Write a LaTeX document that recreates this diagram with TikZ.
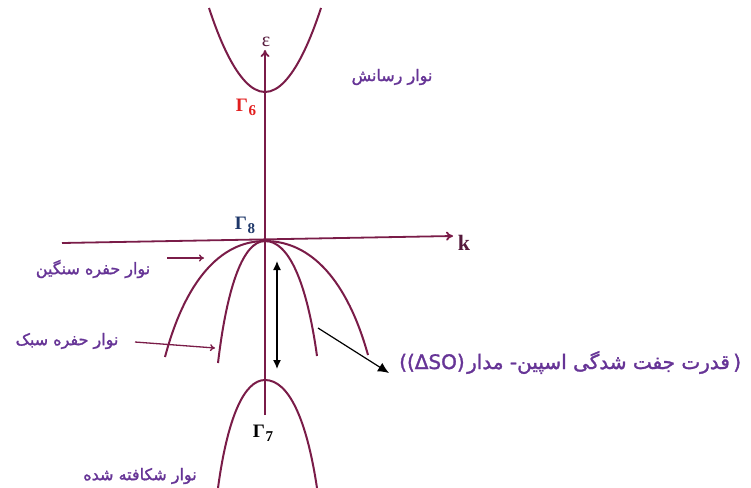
\documentclass[tikz,border=0pt]{standalone}
\usepackage{fontspec}
\usetikzlibrary{arrows.meta,positioning}
\TeXXeTstate=1
\newfontfamily\arabicfont[Script=Arabic,FakeBold=1.5]{DejaVu Sans}
\newfontfamily\latinsans[FakeBold=1.5]{DejaVu Sans}
\newfontfamily\serifb{Liberation Serif}
\definecolor{bandcol}{RGB}{122,28,72}
\definecolor{axlab}{RGB}{85,25,60}
\definecolor{txtcol}{RGB}{102,52,150}
\definecolor{gred}{RGB}{225,30,30}
\definecolor{gnavy}{RGB}{30,55,105}
\newcommand{\gsym}[1]{\serifb\bfseries\fontsize{19}{21}\selectfont Γ\kern0.5pt\raisebox{-4pt}{\fontsize{15}{17}\selectfont #1}}
\tikzset{
  band/.style={draw=bandcol, line width=2pt},
  axis/.style={draw=bandcol, line width=1.8pt, -{To[length=7pt,width=9pt]}},
  ptr/.style={draw=bandcol, line width=1.3pt, -{To[length=5pt,width=7pt]}},
  blk/.style={draw=black, line width=1.3pt},
  fa/.style={text=txtcol, font=\arabicfont\fontsize{16}{18}\selectfont, inner sep=0pt},
  fabig/.style={text=txtcol, font=\arabicfont\fontsize{20}{23}\selectfont, inner sep=0pt, anchor=base west},
  labig/.style={text=txtcol, font=\latinsans\fontsize{20}{23}\selectfont, inner sep=0pt, anchor=base west},
  glab/.style={inner sep=0pt},
}
\begin{document}
\begin{tikzpicture}[x=1pt,y=-1pt]
\useasboundingbox (0,0) rectangle (751,487);
\begin{scope}
\clip (0,0) rectangle (751,487);
% coordinates
\coordinate (cbL) at (209,8);
\coordinate (cb0) at (265,92);
\coordinate (cbR) at (321,8);
\coordinate (ap) at (265,241);
\coordinate (hhL) at (165,357);
\coordinate (hhR) at (368,355);
\coordinate (lhL) at (218,363);
\coordinate (lhR) at (317,356);
\coordinate (so0) at (265,380);
\coordinate (soL) at (218,488);
\coordinate (soR) at (317,488);
\coordinate (yb) at (265,415);
\coordinate (yt) at (265,50);
\coordinate (xl) at (62,243);
\coordinate (xr) at (453,236);
% conduction band
\draw[band] (cbL) parabola bend (cb0) (cbR);
% heavy hole
\draw[band] (hhL) .. controls (185,281.6) and (220,241) .. (ap)
  .. controls (311.4,241) and (347.4,281) .. (hhR);
% light hole
\draw[band] (lhL) .. controls (227.4,283.7) and (243.9,241) .. (ap)
  .. controls (288.4,241) and (306.6,281) .. (lhR);
% split-off
\draw[band] (soL) .. controls (227.4,418.5) and (243.9,380) .. (so0)
  .. controls (288.4,380) and (306.6,418.5) .. (soR);
\end{scope}
% axes
\draw[axis] (yb) -- (yt);
\draw[axis] (xl) -- (xr);
% labels
\node[font=\serifb\fontsize{20}{22}\selectfont, text=axlab, inner sep=0pt] (eps) at (266,42) {ε};
\node[font=\serifb\bfseries\fontsize{22}{24}\selectfont, text=axlab, inner sep=0pt] (k) at (464,243) {k};
\node[glab, text=gred] (g6) at (246,107) {\gsym{6}};
\node[glab, text=gnavy] (g8) at (245,225) {\gsym{8}};
\node[glab, text=black] (g7) at (263,433) {\gsym{7}};
% persian labels
\node[fa] (cond) at (392,77) {\beginR نوار رسانش\endR};
\node[fa] (heavy) at (93,269) {\beginR نوار حفره سنگین\endR};
\node[fa] (light) at (67,341) {\beginR نوار حفره سبک\endR};
\node[fa] (split) at (140,476) {\beginR نوار شکافته شده\endR};
% SO label built left to right
\node[labig] (soa) at (399,369) {((ΔSO)};
\node[fabig] (sob) at ([xshift=2pt]soa.base east) {\beginR قدرت جفت شدگی اسپین- مدار\endR};
\node[labig] (soc) at ([xshift=3pt]sob.base east) {)};
% pointer arrows
\coordinate (ha1) at (167,258);
\coordinate (ha2) at (204,258);
\coordinate (la1) at (135,342);
\coordinate (la2) at (215,348);
\draw[ptr] (ha1) -- (ha2);
\draw[ptr] (la1) -- (la2);
% double arrow
\coordinate (d1) at (277,261);
\coordinate (d2) at (277,369);
\draw[blk, {Latex[length=9pt,width=8pt]}-{Latex[length=9pt,width=8pt]}] (d1) -- (d2);
% SO arrow
\coordinate (s1) at (318,328);
\coordinate (s2) at (389,373);
\draw[blk, line width=1.2pt, -{Latex[length=11pt,width=10pt]}] (s1) -- (s2);
\end{tikzpicture}
\end{document}
